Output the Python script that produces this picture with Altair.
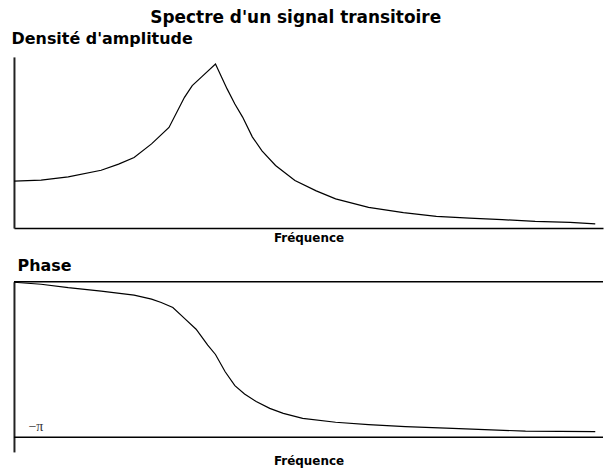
import math
import altair as alt
import pandas as pd

# ---- texts ----
main_title = "Spectre d'un signal transitoire"
amp_title = "Densité d'amplitude"
phase_title = "Phase"
x_title = "Fréquence"
pi_label = "−π"

# ---- amplitude density ----
freq_amp = [0.00, 0.14, 0.28, 0.45, 0.54, 0.62, 0.71, 0.80, 0.88, 0.92, 0.97,
            1.04, 1.10, 1.14, 1.18, 1.23, 1.28, 1.35, 1.45, 1.56, 1.66, 1.83,
            2.01, 2.18, 2.35, 2.52, 2.69, 2.87, 3.00]
amplitude = [1.00, 1.02, 1.09, 1.23, 1.36, 1.50, 1.79, 2.14, 2.78, 3.03, 3.22,
             3.49, 2.96, 2.64, 2.36, 1.94, 1.64, 1.33, 1.01, 0.79, 0.62, 0.44,
             0.33, 0.25, 0.21, 0.18, 0.14, 0.12, 0.09]

# ---- phase ----
freq_phase = [0.00, 0.14, 0.28, 0.45, 0.62, 0.71, 0.76, 0.82, 0.88, 0.94, 0.97,
              1.00, 1.04, 1.09, 1.14, 1.19, 1.25, 1.32, 1.39, 1.49, 1.66, 1.83,
              2.02, 2.23, 2.43, 2.64, 3.00]
phase = [-0.01, -0.05, -0.12, -0.19, -0.27, -0.35, -0.42, -0.52, -0.74, -0.96,
         -1.12, -1.28, -1.47, -1.82, -2.10, -2.27, -2.42, -2.56, -2.66, -2.76,
         -2.84, -2.89, -2.93, -2.96, -2.99, -3.02, -3.03]

phase_lines = [0.0, -math.pi]

FONT = "DejaVu Sans"

amp_df = pd.DataFrame({"f": freq_amp, "a": amplitude})
ph_df = pd.DataFrame({"f": freq_phase, "p": phase})
rules_df = pd.DataFrame({"p": phase_lines})

xscale = alt.Scale(domain=[0, 3.04], nice=False, zero=False)
yscale_amp = alt.Scale(domain=[0, 3.64], nice=False)
yscale_ph = alt.Scale(domain=[-3.44, 0], nice=False, zero=False)

top = alt.Chart(amp_df).mark_line(color="black", strokeWidth=1.2).encode(
    x=alt.X("f:Q", scale=xscale,
            axis=alt.Axis(title=x_title, domain=True, ticks=False, labels=False,
                          grid=False, domainColor="black", domainWidth=1.5,
                          titleFont=FONT, titleFontSize=12, titleFontWeight="bold",
                          titleColor="black", titlePadding=5)),
    y=alt.Y("a:Q", scale=yscale_amp,
            axis=alt.Axis(title=None, ticks=False, labels=False, grid=False,
                          domainColor="#222", domainWidth=2)),
).properties(
    width=592, height=172,
    title=alt.TitleParams(amp_title, anchor="start", font=FONT, fontSize=16,
                          fontWeight="bold", color="black", offset=10),
)

yaxis_ph = alt.Axis(title=None, values=[-math.pi], ticks=False, tickSize=0,
                    labelExpr="'" + pi_label + "'", labelAlign="left",
                    labelPadding=-14, labelBaseline="bottom", labelOffset=-4,
                    labelFont="Liberation Serif", labelFontSize=14, labelColor="#333",
                    grid=False, domainColor="#222", domainWidth=2)
xaxis_ph = alt.Axis(title=x_title, domain=False, ticks=False, labels=False,
                    grid=False, titleFont=FONT, titleFontSize=12,
                    titleFontWeight="bold", titleColor="black", titlePadding=4)

rules = alt.Chart(rules_df).mark_rule(color="black", strokeWidth=1.5).encode(
    y=alt.Y("p:Q", scale=yscale_ph, axis=yaxis_ph),
)
line_ph = alt.Chart(ph_df).mark_line(color="black", strokeWidth=1.2).encode(
    x=alt.X("f:Q", scale=xscale, axis=xaxis_ph),
    y=alt.Y("p:Q", scale=yscale_ph, axis=yaxis_ph),
)
bottom = alt.layer(rules, line_ph).properties(
    width=592, height=171,
    title=alt.TitleParams(phase_title, anchor="start", font=FONT, fontSize=16,
                          fontWeight="bold", color="black", offset=6, dx=6),
)

chart = alt.vconcat(top, bottom, spacing=14).properties(
    title=alt.TitleParams(main_title, anchor="middle", font=FONT, fontSize=17,
                          fontWeight="bold", color="black", dx=-12, offset=4),
    padding={"left": 3, "top": 0, "right": 0, "bottom": 0},
    background="white",
).configure_view(stroke=None)

chart.save("out.html", embed_options={"renderer": "svg", "actions": False})
